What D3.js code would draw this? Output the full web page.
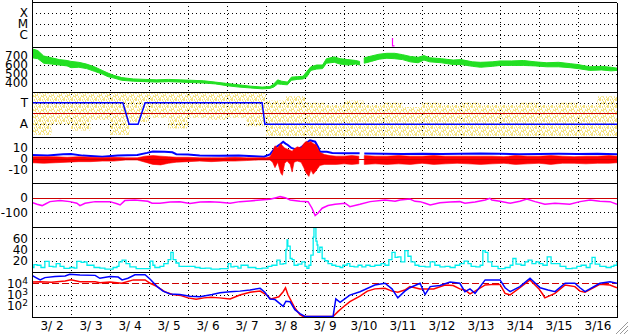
<!DOCTYPE html>
<html>
<head>
<meta charset="utf-8">
<script src="https://cdn.jsdelivr.net/npm/d3@7"></script>
<style>
  body { margin: 0; background: #fff; }
  svg text { font-family: "DejaVu Sans", sans-serif; font-size: 12px; fill: #000; }
</style>
</head>
<body>
<div class="container"></div>
<script>
var days = [2, 3, 4, 5, 6, 7, 8, 9, 10, 11, 12, 13, 14, 15, 16];
var xrayLabels = ["C", "M", "X"];

// flare marker in the X/M/C panel: [t, peak level]
var flares = [[11.23, 0.72]];

// solar wind speed, km/s: [t, low, high] (the trace is noisy so keep the spread)
var speedBand = [
  [2.0, 680, 780], [2.15, 670, 760], [2.3, 620, 700], [2.5, 610, 680], [2.7, 600, 660],
  [2.9, 590, 650], [3.0, 570, 640], [3.2, 575, 630], [3.4, 560, 610], [3.6, 530, 580],
  [3.8, 500, 540], [3.95, 470, 510], [4.1, 455, 485], [4.3, 430, 460], [4.6, 420, 445],
  [4.9, 415, 440], [5.2, 410, 435], [5.5, 415, 440], [5.8, 410, 435], [6.1, 405, 430],
  [6.4, 400, 425], [6.7, 390, 410], [7.0, 370, 395], [7.3, 355, 380], [7.6, 345, 365],
  [7.9, 335, 355], [8.1, 340, 360], [8.2, 355, 390], [8.3, 390, 435], [8.4, 385, 420],
  [8.55, 380, 410], [8.65, 430, 465], [8.8, 440, 470], [8.95, 445, 475], [9.05, 470, 530],
  [9.15, 540, 580], [9.3, 555, 600], [9.45, 560, 600], [9.55, 620, 670], [9.75, 630, 690],
  [9.9, 610, 670], [10.1, 600, 660], [10.3, 610, 650], [10.4, 600, 640], [10.45, null, null],
  [10.52, 620, 680], [10.7, 640, 700], [10.9, 665, 720], [11.1, 675, 730], [11.3, 670, 730],
  [11.5, 660, 715], [11.7, 635, 695], [11.9, 625, 685], [12.05, 655, 705], [12.2, 635, 680],
  [12.5, 625, 670], [12.8, 605, 655], [13.0, 605, 660], [13.3, 585, 635], [13.5, 575, 630],
  [13.8, 585, 635], [14.0, 595, 645], [14.3, 595, 645], [14.6, 595, 650], [14.9, 590, 635],
  [15.2, 580, 625], [15.5, 580, 630], [15.8, 570, 615], [16.0, 560, 605], [16.3, 540, 580],
  [16.6, 545, 585], [16.85, 535, 575], [17.0, 540, 565]
];

// IMF sector: 1 = T, 0 = A
var polarity = [[2, 1], [4.33, 1], [4.49, 0], [4.72, 0], [4.9, 1], [7.9, 1], [7.97, 0], [17, 0]];

// yellow scatter under the sector line, half day bins: [start, low, high] in sector units
var yellowBins = [
  [2.0, -0.5, 1.45], [2.5, 0.0, 1.45], [3.0, -0.3, 1.45], [3.5, 0.2, 1.45], [4.0, -0.5, 1.45],
  [4.5, 0.1, 1.45], [5.0, 0.3, 1.45], [5.5, -0.2, 1.45], [6.0, 0.3, 1.45], [6.5, 0.2, 1.45],
  [7.0, 0.3, 1.45], [7.5, -0.1, 1.45], [8.0, -0.55, 1.1], [8.5, -0.55, 1.3], [9.0, -0.55, 1.0],
  [9.5, -0.55, 0.9], [10.0, -0.55, 1.1], [10.5, -0.55, 0.9], [11.0, -0.55, 1.0], [11.5, -0.55, 0.8],
  [12.0, -0.55, 1.0], [12.5, -0.55, 0.9], [13.0, -0.55, 1.0], [13.5, -0.55, 0.9], [14.0, -0.55, 0.9],
  [14.5, -0.55, 1.0], [15.0, -0.55, 0.9], [15.5, -0.55, 1.0], [16.0, -0.55, 0.9], [16.5, -0.55, 1.3]
];

// Bt (blue), nT
var btVals = [
  [2.0, 3.5], [2.4, 3.0], [2.8, 4.2], [3.0, 4.5], [3.3, 3.0], [3.8, 2.0], [4.2, 3.0], [4.7, 3.6],
  [4.95, 5.5], [5.1, 6.8], [5.4, 6.5], [5.6, 6.0], [5.7, 4.3], [6.0, 4.0], [6.3, 3.0], [6.8, 2.8],
  [7.3, 3.0], [7.7, 2.4], [7.95, 2.0], [8.1, 4], [8.23, 10], [8.35, 13], [8.44, 15.7], [8.5, 14],
  [8.56, 12.7], [8.65, 10], [8.79, 8.5], [8.92, 11], [9.05, 15], [9.13, 17], [9.26, 15.7], [9.35, 10],
  [9.38, 6.6], [9.56, 6.6], [9.7, 5.5], [10.0, 5.1], [10.4, 5.1], [10.45, null], [10.52, 5.0],
  [11.0, 4.6], [11.5, 4.5], [12.0, 4.7], [12.5, 4.5], [13.0, 4.8], [13.5, 5.0], [14.0, 4.6],
  [14.5, 4.3], [15.0, 4.5], [15.5, 4.6], [16.0, 4.4], [16.5, 4.8], [17.0, 4.3]
];

// Bz (red), nT: [t, low, high]
var bzBand = [
  [2.0, -3.5, 2], [2.3, -4, 2], [2.6, -3.5, 2], [2.9, -3, 1.5], [3.2, -2.5, 2], [3.5, -2.5, 1.5],
  [3.8, -2, 1], [4.1, -2, 1.5], [4.4, -1, 1], [4.7, -1, 1], [4.9, -3, 2.5], [5.1, -5, 3],
  [5.3, -5.5, 2.5], [5.5, -4, 2], [5.7, -3, 1.5], [6.0, -2.5, 1.5], [6.3, -2, 1], [6.6, -2.5, 1],
  [6.9, -2, 1], [7.2, -2, 1.5], [7.5, -1.5, 1], [7.8, -1, 1], [8.0, -1, 1], [8.1, -1, 2],
  [8.17, -3, 6], [8.23, -8, 12], [8.3, -3, 10], [8.38, -13, 14], [8.42, -15, 12], [8.48, -4, 10],
  [8.54, -2, 9], [8.62, -5, 8], [8.67, -12, 7], [8.72, -3, 9], [8.8, -2, 11], [8.9, -3, 10],
  [8.97, -8, 14], [9.03, -13, 16], [9.1, -16, 15], [9.15, -10, 16], [9.21, -14, 14], [9.28, -11, 13],
  [9.38, -6, 6], [9.5, -5, 4], [9.64, -5, 3], [9.8, -5, 2.5], [10.0, -4.5, 2.5], [10.2, -5, 3],
  [10.38, -4.5, 2.5], [10.45, null, null], [10.52, -5, 3], [10.8, -4.5, 2.5], [11.1, -5, 2.5],
  [11.4, -4.5, 3], [11.7, -5, 2.5], [12.0, -4, 2.5], [12.3, -5, 3], [12.6, -4.5, 2.5], [12.9, -4, 2.5],
  [13.2, -4.5, 2.5], [13.5, -5, 2.5], [13.8, -4.5, 2.5], [14.1, -4, 2], [14.4, -5, 3], [14.7, -4.5, 2.5],
  [15.0, -4, 2.5], [15.3, -5, 3], [15.6, -4, 2.5], [15.9, -4, 2], [16.2, -4.5, 2.5], [16.5, -4, 2.5],
  [16.8, -4, 3], [17.0, -3.5, 2.5]
];

// Dst, nT
var dstVals = [
  [2.0, -32], [2.13, -45], [2.26, -54], [2.33, -45], [2.46, -27], [2.72, -20], [2.97, -27], [3.15, -38],
  [3.23, -54], [3.36, -38], [3.62, -27], [4.0, -27], [4.18, -42], [4.26, -50], [4.38, -20], [4.64, -16],
  [4.97, -25], [5.08, -38], [5.28, -38], [5.54, -30], [5.79, -28], [6.05, -40], [6.31, -30], [6.56, -28],
  [6.82, -32], [7.08, -38], [7.33, -27], [7.59, -22], [7.85, -16], [8.1, -11], [8.26, 0], [8.36, 7],
  [8.49, 0], [8.62, -16], [8.87, -25], [9.08, -27], [9.18, -72], [9.26, -122], [9.33, -106], [9.44, -72],
  [9.59, -54], [9.77, -45], [10.03, -38], [10.15, -61], [10.41, -45], [10.67, -27], [11.05, -16],
  [11.31, -25], [11.44, -16], [11.69, -9], [11.82, -25], [11.95, -27], [12.08, -38], [12.21, -50],
  [12.46, -35], [12.72, -30], [12.97, -27], [13.1, -38], [13.36, -30], [13.62, -16], [13.74, -4],
  [13.79, -16], [14.0, -25], [14.26, -38], [14.51, -25], [14.69, -9], [14.9, -27], [15.15, -45],
  [15.41, -38], [15.79, -45], [16.05, -27], [16.31, -16], [16.56, -25], [16.82, -27], [17.0, -45]
];

// cyan trace
var cyanVals = [
  [2.0, 8], [2.05, 13], [2.13, 12], [2.23, 8], [2.33, 19], [2.44, 10], [2.54, 9], [2.62, 15], [2.72, 10],
  [2.82, 6.6], [2.97, 8], [3.08, 7], [3.15, 19], [3.26, 17], [3.33, 18], [3.41, 12], [3.59, 8], [3.74, 7],
  [3.87, 5], [4.08, 8], [4.18, 10], [4.23, 18], [4.31, 21], [4.41, 15], [4.51, 9], [4.67, 6], [4.95, 6],
  [5.03, 19.5], [5.1, 12], [5.15, 8], [5.28, 10], [5.38, 15], [5.49, 22], [5.56, 35], [5.62, 22], [5.69, 16],
  [5.77, 10], [6.0, 10], [6.18, 8], [6.31, 6.6], [6.44, 7], [6.59, 5], [6.82, 6], [7.03, 15], [7.1, 9],
  [7.18, 10], [7.28, 7], [7.36, 12], [7.54, 8], [7.74, 6], [7.9, 7], [8.05, 10], [8.15, 12], [8.28, 21],
  [8.36, 14], [8.44, 15], [8.51, 40], [8.54, 57], [8.56, 46], [8.62, 24], [8.67, 22], [8.72, 12], [8.82, 14],
  [8.92, 18], [9.0, 10], [9.05, 6.6], [9.1, 12], [9.15, 30], [9.21, 62], [9.23, 79], [9.28, 55], [9.31, 48],
  [9.33, 35], [9.38, 44], [9.44, 24], [9.51, 20], [9.59, 15], [9.69, 12], [9.79, 10], [9.9, 8], [9.97, 12],
  [10.08, 15], [10.15, 10], [10.26, 9], [10.36, 12], [10.46, 9], [10.56, 12], [10.67, 10], [10.79, 12],
  [10.95, 15], [11.05, 12], [11.15, 22], [11.23, 35], [11.31, 26], [11.38, 27], [11.46, 18], [11.56, 38],
  [11.64, 28], [11.72, 18], [11.82, 12], [11.92, 10], [12.08, 9], [12.21, 18], [12.33, 12], [12.46, 9],
  [12.59, 10], [12.72, 8], [12.85, 12], [12.97, 15], [13.08, 19.5], [13.18, 15], [13.26, 10], [13.38, 9],
  [13.49, 12], [13.56, 38], [13.62, 35], [13.69, 18], [13.79, 10], [13.95, 6], [14.13, 8], [14.26, 12],
  [14.33, 24], [14.41, 14], [14.54, 12], [14.64, 18], [14.72, 21], [14.82, 15], [14.92, 18], [15.0, 15],
  [15.1, 12], [15.21, 27], [15.31, 15], [15.41, 15], [15.54, 10], [15.69, 6], [15.85, 7], [15.97, 10],
  [16.08, 12], [16.21, 8], [16.31, 15], [16.36, 26], [16.44, 14], [16.56, 10], [16.72, 8], [16.85, 10],
  [16.92, 12], [17.0, 18]
];

// electron flux, stored as log10 of the flux
var fluxBlueLog = [
  [2.0, 4.7], [2.1, 4.5], [2.21, 4.29], [2.33, 4.5], [2.59, 4.6], [2.85, 4.65], [2.97, 4.8], [3.23, 4.73],
  [3.62, 4.7], [3.74, 4.44], [4.0, 4.6], [4.21, 4.55], [4.31, 4.3], [4.46, 4.45], [4.64, 4.75], [4.9, 4.75],
  [5.03, 4.35], [5.21, 3.7], [5.36, 3.3], [5.54, 3.05], [5.79, 3.0], [6.05, 2.85], [6.31, 2.8], [6.62, 3.0],
  [6.82, 3.15], [7.08, 3.25], [7.33, 3.3], [7.59, 3.4], [7.85, 3.55], [7.97, 3.2], [8.1, 2.6], [8.23, 2.55],
  [8.44, 1.95], [8.51, 2.4], [8.62, 2.35], [8.74, 1.65], [8.87, 1.3], [9.0, 1.05], [9.72, 1.05], [9.79, 2.6],
  [9.9, 2.3], [10.15, 2.95], [10.41, 3.25], [10.79, 3.84], [11.05, 4.0], [11.23, 3.5], [11.38, 2.7],
  [11.56, 3.3], [11.69, 3.6], [11.95, 4.0], [12.08, 3.0], [12.21, 3.7], [12.46, 3.8], [12.72, 4.1],
  [12.97, 4.0], [13.1, 3.25], [13.23, 3.5], [13.36, 3.1], [13.49, 3.7], [13.62, 4.3], [14.0, 4.3],
  [14.13, 3.6], [14.26, 3.25], [14.51, 3.7], [14.77, 4.45], [15.03, 3.6], [15.23, 3.4], [15.41, 3.25],
  [15.67, 4.0], [15.92, 4.0], [16.05, 3.6], [16.18, 3.25], [16.56, 4.0], [16.82, 4.14], [17.0, 4.0]
];
var fluxRedLog = [
  [2.0, 4.1], [2.21, 4.14], [2.5, 4.1], [2.85, 4.2], [3.0, 4.3], [3.23, 4.14], [3.62, 4.14], [3.74, 4.05],
  [4.0, 4.1], [4.3, 4.0], [4.6, 4.3], [4.9, 4.3], [5.03, 4.0], [5.21, 3.7], [5.4, 3.25], [5.6, 3.0],
  [5.82, 2.9], [6.0, 2.7], [6.21, 2.57], [6.41, 2.7], [6.59, 2.75], [6.8, 2.7], [7.08, 2.6], [7.33, 2.96],
  [7.59, 3.2], [7.85, 3.3], [8.0, 3.0], [8.13, 2.6], [8.33, 2.8], [8.44, 3.25], [8.5, 3.6], [8.56, 3.0],
  [8.62, 2.6], [8.74, 1.8], [8.87, 1.2], [8.95, 1.05], [9.72, 1.05], [9.85, 1.5], [9.95, 1.8], [10.15, 2.36],
  [10.41, 2.85], [10.6, 3.3], [10.79, 3.5], [11.05, 3.55], [11.23, 3.3], [11.38, 3.2], [11.56, 3.4],
  [11.69, 3.7], [11.95, 3.5], [12.1, 3.5], [12.3, 3.5], [12.59, 3.85], [12.8, 3.8], [12.97, 3.5],
  [13.1, 3.4], [13.23, 3.05], [13.36, 3.3], [13.62, 3.85], [13.85, 3.9], [14.0, 3.9], [14.13, 3.1],
  [14.26, 2.96], [14.51, 3.6], [14.77, 4.3], [15.0, 3.5], [15.1, 3.0], [15.15, 2.7], [15.41, 3.1],
  [15.67, 3.85], [15.92, 3.7], [16.05, 3.3], [16.18, 3.2], [16.56, 3.9], [16.82, 3.85], [17.0, 3.6]
];
var fluxThreshold = 1e4;

// ---- layout ----
var W = 628, H = 334;
var left = 32, right = 617;
var tops = [2, 47, 92, 137, 183, 227, 272, 317];   // panel edges, top to bottom

var svg = d3.select(".container").append("svg").attr("width", W).attr("height", H);
svg.append("rect").attr("width", W).attr("height", H).attr("fill", "#fff");

var x = d3.scaleLinear().domain([2, 17]).range([left, right]);

var yXray = d3.scaleLinear().domain([-0.1, 4]).range([tops[1], tops[0]]);
var ySpeed = d3.scaleLinear().domain([300, 800]).range([tops[2], tops[1]]);
var yPol = d3.scaleLinear().domain([-0.6, 1.5]).range([tops[3], tops[2]]);
var yBz = d3.scaleLinear().domain([-22, 20]).range([tops[4], tops[3]]);
var yDst = d3.scaleLinear().domain([-200, 100]).range([tops[5], tops[4]]);
var yCyan = d3.scaleLinear().domain([0, 80]).range([tops[6], tops[5]]);
var yFlux = d3.scaleLog().domain([10, 1e5]).range([tops[7], tops[6]]);

var defs = svg.append("defs");
for (var i = 0; i < tops.length - 1; i++) {
  defs.append("clipPath").attr("id", "clip" + i).append("rect")
    .attr("x", left).attr("y", tops[i]).attr("width", right - left).attr("height", tops[i + 1] - tops[i]);
}

// speckle texture for the yellow scatter (short vertical streaks)
var speckle = defs.append("pattern").attr("id", "speckle")
  .attr("patternUnits", "userSpaceOnUse").attr("width", 8).attr("height", 7);
[[0, 0, 1, 3], [1, 4, 1, 2], [2, 1, 1, 2], [3, 3, 1, 4], [4, 0, 1, 2], [5, 2, 1, 3], [6, 5, 1, 2],
 [7, 0, 1, 3], [2, 5, 1, 1], [6, 1, 1, 1], [0, 6, 1, 1], [4, 4, 1, 1]]
  .forEach(function(r) {
    speckle.append("rect").attr("x", r[0]).attr("y", r[1]).attr("width", r[2]).attr("height", r[3]).attr("fill", "#f4e282");
  });

var grid = svg.append("g").attr("shape-rendering", "crispEdges");

function px(v) { return Math.round(v) + 0.5; }

// dotted day lines through all panels
grid.selectAll("line.day").data(days.slice(1)).enter().append("line")
  .attr("x1", function(d) { return px(x(d)); }).attr("x2", function(d) { return px(x(d)); })
  .attr("y1", tops[0]).attr("y2", tops[7])
  .attr("stroke", "#000").attr("stroke-dasharray", "1,3");

function hgrid(scale, vals) {
  grid.selectAll(null).data(vals).enter().append("line")
    .attr("x1", left).attr("x2", right)
    .attr("y1", function(d) { return px(scale(d)); }).attr("y2", function(d) { return px(scale(d)); })
    .attr("stroke", "#000").attr("stroke-dasharray", "1,3");
}
hgrid(yXray, [1, 2, 3]);
hgrid(ySpeed, [400, 500, 600, 700]);
hgrid(yPol, [0, 1]);
hgrid(yBz, [-10, 0, 10]);
hgrid(yDst, [-100]);
hgrid(yCyan, [20, 40, 60]);
hgrid(yFlux, [100, 1000]);

function refLine(g, scale, v, dash) {
  g.append("line")
    .attr("x1", left).attr("x2", right)
    .attr("y1", px(scale(v))).attr("y2", px(scale(v)))
    .attr("stroke", "#cc0000").attr("stroke-width", 1.5)
    .attr("shape-rendering", "crispEdges")
    .attr("stroke-dasharray", dash || null);
}

function panel(i) { return svg.append("g").attr("clip-path", "url(#clip" + i + ")"); }

// ---- panel 0: flare classes ----
var p0 = panel(0);
p0.selectAll("path").data(flares).enter().append("path")
  .attr("d", function(d) {
    return "M" + px(x(d[0])) + "," + yXray(d[1]) + "V" + yXray(0) + "H" + (px(x(d[0])) + 2);
  })
  .attr("fill", "none").attr("stroke", "#ff00ff").attr("stroke-width", 1.2);

// ---- panel 1: speed ----
var p1 = panel(1);
p1.append("path").datum(speedBand)
  .attr("d", d3.area().defined(function(d) { return d[1] != null; })
    .x(function(d) { return x(d[0]); })
    .y0(function(d) { return ySpeed(d[1]); })
    .y1(function(d) { return ySpeed(d[2]); }))
  .attr("fill", "#22e022").attr("stroke", "#22e022").attr("stroke-width", 1);

// ---- panel 2: sector ----
var p2 = panel(2);
p2.selectAll("rect").data(yellowBins).enter().append("rect")
  .attr("x", function(d) { return x(d[0]); })
  .attr("width", function(d) { return x(d[0] + 0.5) - x(d[0]); })
  .attr("y", function(d) { return yPol(d[2]); })
  .attr("height", function(d) { return yPol(d[1]) - yPol(d[2]); })
  .attr("fill", "url(#speckle)");
refLine(p2, yPol, 0.5);
p2.append("path").datum(polarity)
  .attr("d", d3.line().x(function(d) { return x(d[0]); }).y(function(d) { return yPol(d[1]); }))
  .attr("fill", "none").attr("stroke", "#0000ff").attr("stroke-width", 1.5);

// ---- panel 3: Bt / Bz ----
var p3 = panel(3);
p3.append("path").datum(btVals)
  .attr("d", d3.line().defined(function(d) { return d[1] != null; })
    .x(function(d) { return x(d[0]); }).y(function(d) { return yBz(d[1]); }))
  .attr("fill", "none").attr("stroke", "#0000ff").attr("stroke-width", 2);
p3.append("path").datum(bzBand)
  .attr("d", d3.area().defined(function(d) { return d[1] != null; })
    .x(function(d) { return x(d[0]); })
    .y0(function(d) { return yBz(d[1]); })
    .y1(function(d) { return yBz(d[2]); }))
  .attr("fill", "#ff0000").attr("stroke", "#ff0000").attr("stroke-width", 0.6);
refLine(p3, yBz, 0);

// ---- panel 4: Dst ----
var p4 = panel(4);
refLine(p4, yDst, 0);
p4.append("path").datum(dstVals)
  .attr("d", d3.line().x(function(d) { return x(d[0]); }).y(function(d) { return yDst(d[1]); }))
  .attr("fill", "none").attr("stroke", "#ff00ff").attr("stroke-width", 1.5);

// ---- panel 5: cyan ----
var p5 = panel(5);
p5.append("path").datum(cyanVals)
  .attr("d", d3.line().curve(d3.curveStepAfter).x(function(d) { return x(d[0]); }).y(function(d) { return yCyan(d[1]); }))
  .attr("fill", "none").attr("stroke", "#00eeee").attr("stroke-width", 1.3);

// ---- panel 6: electron flux ----
var p6 = panel(6);
refLine(p6, yFlux, fluxThreshold, "7,3");
var fluxLine = d3.line().x(function(d) { return x(d[0]); }).y(function(d) { return yFlux(Math.pow(10, d[1])); });
p6.append("path").datum(fluxRedLog).attr("d", fluxLine)
  .attr("fill", "none").attr("stroke", "#ff0000").attr("stroke-width", 1.5);
p6.append("path").datum(fluxBlueLog).attr("d", fluxLine)
  .attr("fill", "none").attr("stroke", "#0000ff").attr("stroke-width", 1.5);

// ---- borders ----
var frame = svg.append("g").attr("shape-rendering", "crispEdges");
frame.selectAll("line.sep").data(tops).enter().append("line")
  .attr("x1", left).attr("x2", right)
  .attr("y1", function(d) { return px(d); }).attr("y2", function(d) { return px(d); })
  .attr("stroke", "#000");
frame.append("line").attr("x1", px(left)).attr("x2", px(left)).attr("y1", 0).attr("y2", px(tops[7])).attr("stroke", "#000");
frame.append("line").attr("x1", px(right)).attr("x2", px(right)).attr("y1", px(tops[0])).attr("y2", px(tops[7])).attr("stroke", "#000");

// ---- axis labels ----
function leftAxis(scale, vals, fmt) {
  var g = svg.append("g").attr("transform", "translate(" + left + ",0)")
    .call(d3.axisLeft(scale).tickValues(vals).tickSize(0).tickPadding(4)
      .tickFormat(fmt || function(d) { return String(d); }));
  g.select(".domain").remove();
  return g;
}
leftAxis(yXray, [1, 2, 3], function(d) { return xrayLabels[d - 1]; });
leftAxis(ySpeed, [400, 500, 600, 700]);
leftAxis(yPol, [0, 1], function(d) { return d ? "T" : "A"; });
leftAxis(yBz, [-10, 0, 10]);
leftAxis(yDst, [-100, 0]);
leftAxis(yCyan, [20, 40, 60]);
var fluxAxis = leftAxis(yFlux, [100, 1000, 10000], function() { return ""; });
fluxAxis.selectAll(".tick text").each(function(d) {
  var t = d3.select(this);
  t.text("10");
  t.append("tspan").attr("dy", "-0.45em").attr("font-size", "9px").text(Math.round(Math.log10(d)));
});

var bottom = svg.append("g").attr("transform", "translate(0," + tops[7] + ")")
  .call(d3.axisBottom(x).tickValues(days.map(function(d) { return d + 0.5; })).tickSize(0).tickPadding(4)
    .tickFormat(function(d) { var n = Math.floor(d); return "3/" + (n < 10 ? " " + n : n); }));
bottom.select(".domain").remove();

// little resize grip in the corner
var grip = svg.append("g").attr("stroke-width", 1);
[4, 8, 12].forEach(function(k) {
  grip.append("line").attr("x1", W - k).attr("y1", H).attr("x2", W).attr("y2", H - k).attr("stroke", "#999");
  grip.append("line").attr("x1", W - k + 1).attr("y1", H).attr("x2", W).attr("y2", H - k + 1).attr("stroke", "#fff");
});
</script>
</body>
</html>
